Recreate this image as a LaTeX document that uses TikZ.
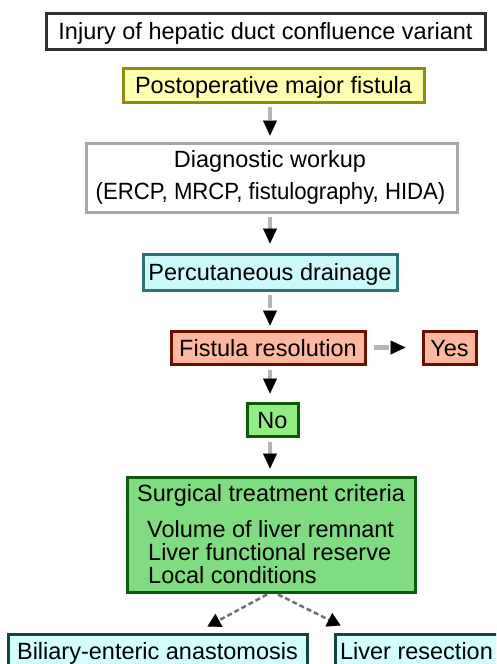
\documentclass[tikz,border=0pt]{standalone}
\usepackage{fontspec}
\setmainfont{Liberation Sans}
\usetikzlibrary{arrows.meta,calc}
\definecolor{bOne}{HTML}{303030}
\definecolor{yFill}{HTML}{FFFFB0}
\definecolor{yDraw}{HTML}{8C8C10}
\definecolor{gDraw}{HTML}{A8A8A8}
\definecolor{cFill}{HTML}{CCFAFA}
\definecolor{cDraw}{HTML}{2E7272}
\definecolor{sFill}{HTML}{FFB8A0}
\definecolor{sDraw}{HTML}{6A1000}
\definecolor{nFill}{HTML}{92EE84}
\definecolor{nDraw}{HTML}{0A5A0A}
\definecolor{tFill}{HTML}{80DC80}
\definecolor{eFill}{HTML}{D2FEFE}
\definecolor{eDraw}{HTML}{124444}
\definecolor{stemGray}{HTML}{B4B4B4}
\definecolor{dashGray}{HTML}{707070}
\begin{document}
\begin{tikzpicture}[x=1pt,y=-1pt,
  txt/.style={font=\fontsize{23.5}{28}\selectfont, inner sep=0pt},
  box/.style={txt, draw, line width=3pt, text height=17pt, text depth=0pt},
  stem/.style={draw=stemGray, line width=4.5pt, dash pattern=on 13pt off 300pt,
    -{Triangle[color=black, length=15pt, width=14pt, line width=0.1pt]}},
  diag/.style={draw=dashGray, line width=2.5pt, dash pattern=on 5pt off 3pt,
    -{Triangle[color=black, length=13pt, width=15pt, line width=0.1pt]}}
]
\useasboundingbox (0,0) rectangle (496,664);
\begin{scope}
\clip (0,0) rectangle (496,664);

\node[box, fill=white, draw=bOne, minimum width=439pt, minimum height=36pt] (b1) at (265.5,31) {Injury of hepatic duct confluence variant};

\node[box, fill=yFill, draw=yDraw, minimum width=301pt, minimum height=34pt] (b2) at (273.5,85) {Postoperative major fistula};

\node[box, fill=white, draw=gDraw, minimum width=371pt, minimum height=69pt] (b3) at (271.5,177.5) {};
\node[txt, anchor=base] (b3a) at (270,167) {Diagnostic workup};
\node[txt, anchor=base] (b3b) at (270.5,199) {\scalebox{0.943}[1]{(ERCP, MRCP, fistulography, HIDA)}};

\node[box, fill=cFill, draw=cDraw, minimum width=254pt, minimum height=36pt] (b4) at (270,272) {Percutaneous drainage};

\node[box, fill=sFill, draw=sDraw, minimum width=194pt, minimum height=33pt] (b5) at (268,347.5) {Fistula resolution};

\node[box, fill=sFill, draw=sDraw, minimum width=53pt, minimum height=33pt] (yes) at (449.5,347.5) {Yes};

\node[box, fill=nFill, draw=nDraw, minimum width=51pt, minimum height=33pt] (no) at (272.5,419.5) {No};

\node[box, fill=tFill, draw=nDraw, minimum width=288pt, minimum height=115pt] (b7) at (271,534.5) {};
\node[txt, anchor=base west] (b7a) at (137,501) {Surgical treatment criteria};
\node[txt, anchor=base west] (b7b) at (147,537) {Volume of liver remnant};
\node[txt, anchor=base west] (b7c) at (148,560) {Liver functional reserve};
\node[txt, anchor=base west] (b7d) at (148,583) {Local conditions};

\node[box, fill=eFill, draw=eDraw, minimum width=299pt, minimum height=33pt] (b8) at (157.5,650.5) {Biliary-enteric anastomosis};
\node[box, fill=eFill, draw=eDraw, minimum width=163pt, minimum height=33pt] (b9) at (416.5,650.5) {Liver resection};

\draw[stem, shorten <=3pt, shorten >=6pt] (b2.south -| 270,0) -- (b3.north -| 270,0);
\draw[stem, shorten <=3pt, shorten >=9pt] (b3.south -| 270,0) -- (b4.north -| 270,0);
\draw[stem, shorten <=3pt, shorten >=4pt] (b4.south -| 270,0) -- (b5.north -| 270,0);
\draw[stem, shorten <=4pt, shorten >=8pt, dash pattern=on 9pt off 300pt] (b5.south -| 270,0) -- (no.north -| 270,0);
\draw[stem, shorten <=4pt, shorten >=7pt, dash pattern=on 12pt off 300pt] (no.south -| 270,0) -- (b7.north -| 270,0);
\draw[stem, shorten <=7pt, shorten >=16pt, dash pattern=on 15pt off 300pt] (b5.east) -- (yes.west);

\coordinate (tipL) at ($(b8.north)+(50,-6)$);
\coordinate (tipR) at ($(b9.north)+(-76,-7)$);
\draw[diag] ($(b7.south)+(-4,1)$) -- (tipL);
\draw[diag] ($(b7.south)+(7,1)$) -- (tipR);
\end{scope}
\end{tikzpicture}
\end{document}
